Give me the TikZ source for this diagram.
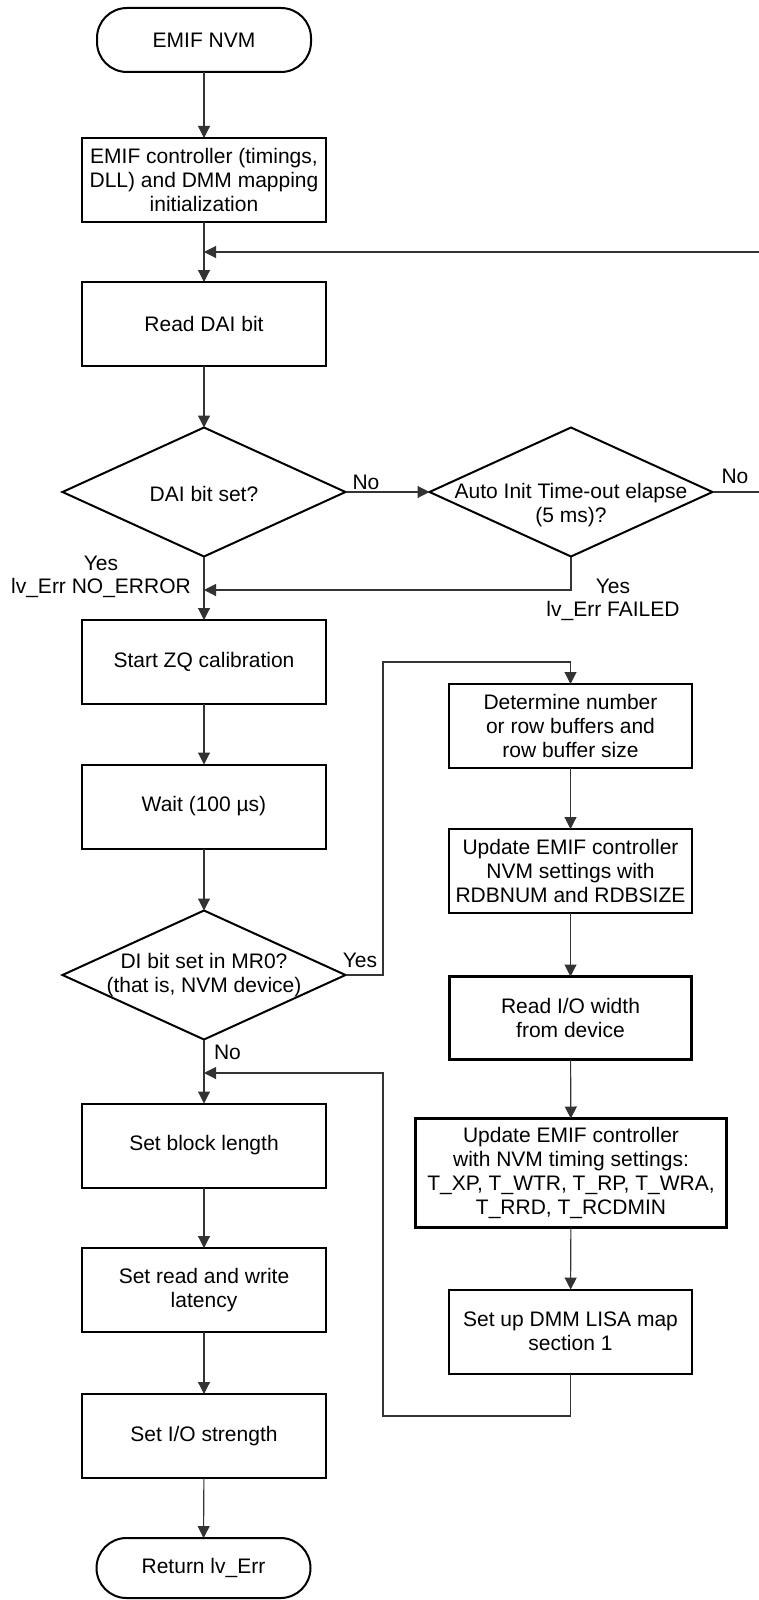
\documentclass[tikz,border=0pt]{standalone}
\usepackage{fontspec}
\setmainfont{Liberation Sans}
\usetikzlibrary{shapes.geometric,arrows.meta}
\begin{document}
\begin{tikzpicture}[x=1pt,y=-1pt,
  every node/.style={font=\fontsize{21}{23.7}\selectfont, align=center, inner sep=0pt, outer sep=0pt},
  box/.style={draw, line width=2pt, rectangle, minimum width=244pt, minimum height=84pt},
  thickbox/.style={box, line width=2.8pt},
  term/.style={draw, line width=2pt, rounded corners=30pt, minimum width=214pt, minimum height=64pt},
  dia/.style={draw, line width=2pt, diamond, minimum width=283pt, minimum height=129pt},
  conn/.style={draw=black!80, line width=1.1pt},
  arr/.style={conn, -{Triangle[length=12pt,width=12pt]}}
]
\useasboundingbox (0,0) rectangle (759,1600);

% ---------- left column ----------
\node[term] (start) at (204,40) {EMIF NVM};
\node[box] (b1) at (204,180) {EMIF controller (timings,\\DLL) and DMM mapping\\initialization};
\node[box] (b2) at (204,324) {Read DAI bit};
\node[dia] (d1) at (204,492) {};
\node (d1t) at (204,494) {DAI bit set?};
\node[dia] (d2) at (571,492) {};
\node (d2t) at (571,505) {Auto Init Time-out elapse\\(5 ms)?};
\node[box] (b3) at (204,662) {Start ZQ calibration};
\node[box] (b4) at (204,806.5) {Wait (100 µs)};
\node[dia] (d3) at (204,975) {};
\node (d3t) at (204,975) {DI bit set in MR0?\\(that is, NVM device)};
\node[box] (b5) at (204,1145.5) {Set block length};
\node[box] (b6) at (204,1290) {Set read and write\\latency};
\node[box] (b7) at (204,1436) {Set I/O strength};
\node[term, minimum height=60pt] (end) at (203.5,1568) {Return lv\_Err};

% ---------- right column ----------
\node[box, minimum width=243pt] (r1) at (570.5,726) {Determine number\\or row buffers and\\row buffer size};
\node[box, minimum width=243pt] (r2) at (570.5,871) {Update EMIF controller\\NVM settings with\\RDBNUM and RDBSIZE};
\node[thickbox, minimum width=242pt, minimum height=83pt] (r3) at (570.5,1018) {Read I/O width\\from device};
\node[thickbox, minimum width=311pt, minimum height=109pt] (r4) at (571,1173) {Update EMIF controller\\with NVM timing settings:\\T\_XP, T\_WTR, T\_RP, T\_WRA,\\T\_RRD, T\_RCDMIN};
\node[box, minimum width=243pt] (r5) at (570.5,1331.5) {Set up DMM LISA map\\section 1};

% ---------- labels ----------
\node (noA) at (366,482) {No};
\node (noB) at (735,476) {No};
\node (yesA) at (101,577) {Yes\\lv\_Err NO\_ERROR};
\node (yesB) at (613,600) {Yes\\lv\_Err FAILED};
\node (yesC) at (360,960) {Yes};
\node (noC) at (227.5,1052) {No};

% ---------- junctions ----------
\coordinate (j1) at (204,252);
\coordinate (j2) at (204,590);
\coordinate (j3) at (204,1073);
\coordinate (edgeR) at (763,492);
\coordinate (loopTop) at (383,662);
\coordinate (loopBot) at (383,1416);

% ---------- connectors ----------
\draw[arr] (start) -- (b1);
\draw[arr] (b1) -- (b2);
\draw[arr] (d2.east) -- (edgeR) |- (j1);
\draw[arr] (b2) -- (d1);
\draw[arr] (d1.east) -- (d2.west);
\draw[arr] (d1.south) -- (b3.north);
\draw[arr] (d2.south) |- (j2);
\draw[arr] (b3) -- (b4);
\draw[arr] (b4) -- (d3.north);
\draw[arr] (d3.east) -| (loopTop) -| (r1.north);
\draw[arr] (r1) -- (r2);
\draw[arr] (r2) -- (r3);
\draw[arr] (r3) -- (r4);
\draw[arr] (r4) -- (r5);
\draw[arr] (r5.south) |- (loopBot) |- (j3);
\draw[arr] (d3.south) -- (b5.north);
\draw[arr] (b5) -- (b6);
\draw[arr] (b6) -- (b7);
\draw[arr] (b7) -- (end);
\end{tikzpicture}
\end{document}
